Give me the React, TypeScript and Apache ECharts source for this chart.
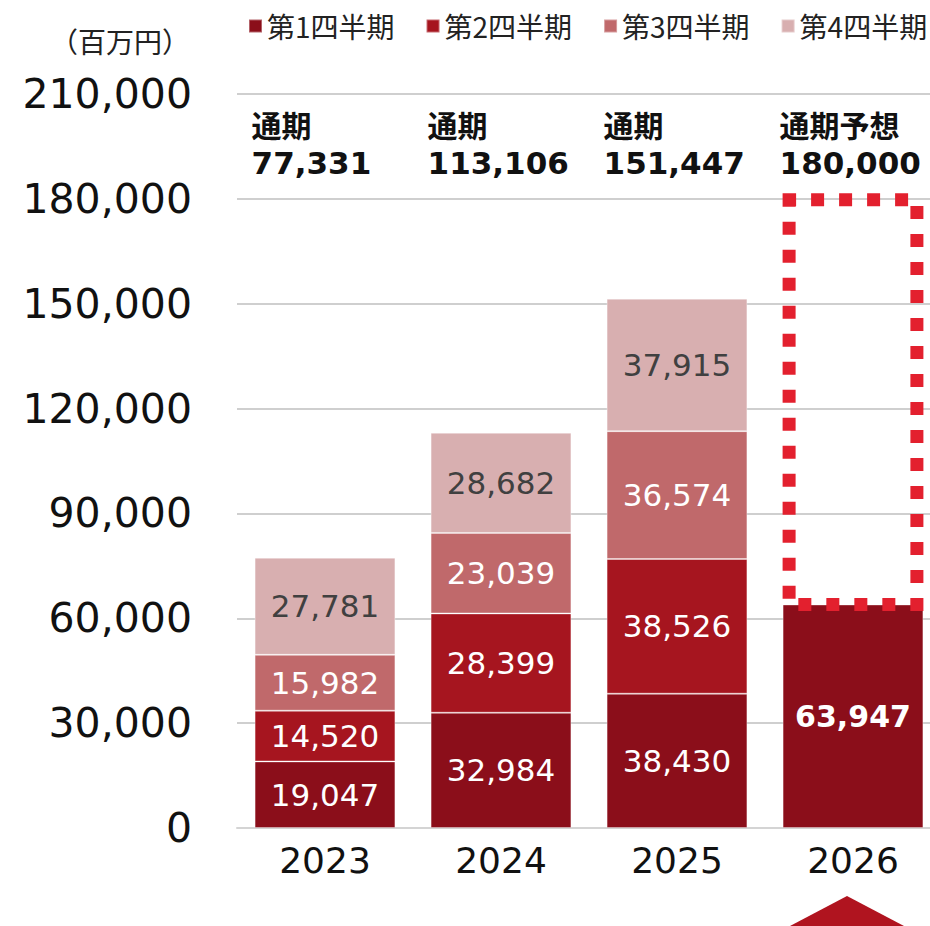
import React, { useEffect, useRef } from "react";
import * as echarts from "echarts";

const years = ["2023", "2024", "2025", "2026"];
const q1 = [19047, 32984, 38430, 63947];
const q2 = [14520, 28399, 38526, null];
const q3 = [15982, 23039, 36574, null];
const q4 = [27781, 28682, 37915, null];
const totals = [77331, 113106, 151447, 180000];
const totalHeads = ["通期", "通期", "通期", "通期予想"];
const forecastIndex = 3;
const seriesNames = ["第1四半期", "第2四半期", "第3四半期", "第4四半期"];
const colors = ["#8B0E1A", "#A6151F", "#C0696B", "#D8AFB0"];
const yTicks = { min: 0, max: 210000, interval: 30000 };

const fmt = (v: number) => v.toLocaleString("en-US");
const NUM_FONT = "'DejaVu Sans', sans-serif";
const JP_FONT = "'Noto Sans CJK JP', sans-serif";

export default function App() {
  const ref = useRef<HTMLDivElement>(null);
  useEffect(() => {
    if (!ref.current) return;
    const chart = echarts.init(ref.current, null, { renderer: "svg" });
    const quarterData = [q1, q2, q3, q4];
    const barSeries = quarterData.map((arr, i) => ({
      name: seriesNames[i],
      type: "bar",
      stack: "total",
      barWidth: "80%",
      itemStyle: { color: colors[i], borderColor: "rgba(255,255,255,0.35)", borderWidth: 1 },
      label: {
        show: true,
        position: "inside",
        formatter: (p: any) => fmt(p.value),
        fontFamily: NUM_FONT,
        fontSize: 31,
        color: i === 3 ? "#404040" : "#ffffff",
      },
      data: arr.map((v, j) =>
        v === null
          ? "-"
          : j === forecastIndex
          ? { value: v, label: { fontWeight: "bold", fontSize: 30 } }
          : v
      ),
      z: 2,
    }));

    const option: any = {
      animation: false,
      color: colors,
      legend: {
        data: seriesNames,
        left: 248,
        top: 12,
        padding: 0,
        icon: "rect",
        itemWidth: 13,
        itemHeight: 13,
        itemGap: 31,
        textStyle: { fontFamily: JP_FONT, fontSize: 28, color: "#222" },
      },
      grid: { left: 237, right: 0, top: 94, bottom: 98, containLabel: false },
      xAxis: {
        type: "category",
        data: years,
        axisTick: { show: false },
        axisLine: { lineStyle: { color: "#d4d4d4", width: 2 } },
        axisLabel: { fontFamily: NUM_FONT, fontSize: 36, color: "#111", margin: 14 },
      },
      yAxis: {
        type: "value",
        min: yTicks.min,
        max: yTicks.max,
        interval: yTicks.interval,
        axisLine: { show: false },
        axisTick: { show: false },
        splitLine: { lineStyle: { color: "#cfcfcf", width: 2 } },
        axisLabel: {
          fontFamily: NUM_FONT,
          fontSize: 41,
          color: "#111",
          margin: 45,
          formatter: (v: number) => fmt(v),
        },
      },
      graphic: [
        {
          type: "text",
          left: 50,
          top: 27,
          style: { text: "（百万円）", fontFamily: JP_FONT, fontSize: 28, fill: "#222" },
        },
        {
          type: "polygon",
          shape: { points: [[847, 896], [790, 926], [904, 926]] },
          style: { fill: "#B0141F" },
        },
      ],
      series: [
        ...barSeries,
        {
          type: "custom",
          name: "forecast",
          z: 5,
          data: [[forecastIndex, q1[forecastIndex], totals[forecastIndex]]],
          renderItem: (params: any, api: any) => {
            const x = api.value(0);
            const pTop = api.coord([x, api.value(2)]);
            const pBot = api.coord([x, api.value(1)]);
            const bw = api.size([1, 0])[0] * 0.8;
            const lw = 13;
            return {
              type: "rect",
              shape: {
                x: pTop[0] - bw / 2 + lw / 2,
                y: pTop[1] + 1,
                width: bw - lw,
                height: pBot[1] - pTop[1] - 1,
              },
              style: { fill: "none", stroke: "#E3202E", lineWidth: lw, lineDash: [13, 15], lineDashOffset: 6 },
            };
          },
        },
        {
          type: "custom",
          name: "totals",
          z: 6,
          data: totals.map((t, i) => [i, t]),
          renderItem: (params: any, api: any) => {
            const idx = api.value(0);
            const top = api.coord([idx, yTicks.max]);
            const bw = api.size([1, 0])[0] * 0.8;
            const left = top[0] - bw / 2;
            return {
              type: "group",
              children: [
                {
                  type: "text",
                  x: left - 3,
                  y: top[1] + 30,
                  style: {
                    text: totalHeads[idx],
                    fontFamily: JP_FONT,
                    fontWeight: "bold",
                    fontSize: 30,
                    fill: "#111",
                    verticalAlign: "middle",
                  },
                },
                {
                  type: "text",
                  x: left - 3,
                  y: top[1] + 69,
                  style: {
                    text: fmt(api.value(1)),
                    fontFamily: NUM_FONT,
                    fontWeight: "bold",
                    fontSize: 31,
                    fill: "#111",
                    verticalAlign: "middle",
                  },
                },
              ],
            };
          },
        },
      ],
    };
    chart.setOption(option);
    return () => chart.dispose();
  }, []);
  return (
    <div
      style={{
        position: "absolute",
        left: 0,
        top: 0,
        width: 930,
        height: 926,
        overflow: "hidden",
        background: "#fff",
      }}
    >
      <div ref={ref} style={{ width: 941, height: 926 }} />
    </div>
  );
}
